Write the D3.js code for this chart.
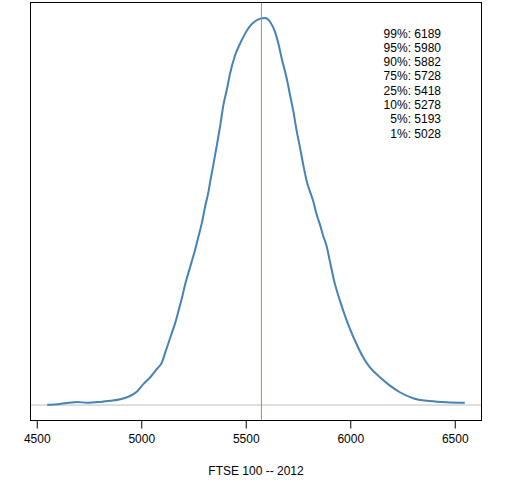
<!DOCTYPE html>
<html>
<head>
<meta charset="utf-8">
<script src="https://cdn.jsdelivr.net/npm/d3@7"></script>
<style>
  body { margin: 0; background: #fff; }
  svg { display: block; font-family: "Liberation Sans", Arial, sans-serif; }
</style>
</head>
<body>
<div class="chart"></div>
<script>
// density of the FTSE 100 closing level, 2012 (y in units of 1e-3 per point)
const ftse = [4550, 4613, 4653, 4693, 4741, 4804, 4852, 4900, 4939, 4980,
  5011, 5043, 5075, 5099, 5115, 5131, 5147, 5163, 5178, 5195,
  5210, 5226, 5242, 5258, 5274, 5290, 5306, 5322, 5330, 5345,
  5362, 5377, 5393, 5409, 5425, 5449, 5473, 5497, 5521, 5545,
  5569, 5593, 5617, 5640, 5656, 5672, 5696, 5712, 5728, 5744,
  5760, 5775, 5792, 5807, 5823, 5839, 5855, 5871, 5887, 5903,
  5927, 5951, 5975, 5999, 6030, 6062, 6094, 6142, 6190, 6237,
  6301, 6365, 6460, 6548];
const density = [0.001, 0.005, 0.010, 0.014, 0.010, 0.014, 0.019, 0.026, 0.038, 0.061,
  0.096, 0.126, 0.164, 0.194, 0.239, 0.284, 0.329, 0.374, 0.427, 0.487,
  0.548, 0.601, 0.653, 0.706, 0.766, 0.827, 0.902, 0.970, 1.015, 1.091,
  1.181, 1.264, 1.362, 1.430, 1.505, 1.588, 1.641, 1.686, 1.721, 1.742,
  1.754, 1.757, 1.739, 1.694, 1.641, 1.573, 1.482, 1.407, 1.332, 1.242,
  1.166, 1.091, 1.015, 0.970, 0.925, 0.865, 0.819, 0.766, 0.721, 0.650,
  0.548, 0.473, 0.405, 0.345, 0.277, 0.216, 0.171, 0.126, 0.088, 0.058,
  0.031, 0.019, 0.013, 0.010];
const median = 5575;
const quantLabels = ['99%', '95%', '90%', '75%', '25%', '10%', '5%', '1%'];
const quantValues = [6189, 5980, 5882, 5728, 5418, 5278, 5193, 5028];
const xTicks = [4500, 5000, 5500, 6000, 6500];

const W = 512, H = 480;
const box = {left: 30.5, right: 481.5, top: 2.5, bottom: 420.5};

const svg = d3.select('.chart')
    .append('svg')
    .attr('width', W)
    .attr('height', H);

// R style 4% padding on both axes
const xExt = d3.extent(ftse);
const xPad = (xExt[1] - xExt[0]) * 0.04;
const yMax = d3.max(density);

const xScale = d3.scaleLinear()
    .domain([xExt[0] - xPad, xExt[1] + xPad])
    .range([box.left, box.right]);

const yScale = d3.scaleLinear()
    .domain([-0.04 * yMax, yMax * 1.04])
    .range([box.bottom, box.top]);

// zero line
svg.append('line')
    .attr('x1', box.left).attr('x2', box.right)
    .attr('y1', yScale(0)).attr('y2', yScale(0))
    .attr('stroke', '#bebebe')
    .attr('stroke-width', 1);

const line = d3.line()
    .x((d, i) => xScale(ftse[i]))
    .y(d => yScale(d))
    .curve(d3.curveMonotoneX);

svg.append('path')
    .datum(density)
    .attr('d', line)
    .attr('fill', 'none')
    .attr('stroke', '#4682b4')
    .attr('stroke-width', 2);

// median
svg.append('line')
    .attr('x1', xScale(median)).attr('x2', xScale(median))
    .attr('y1', box.top).attr('y2', box.bottom)
    .attr('stroke', '#22dd22')
    .attr('stroke-width', 1);

// frame
svg.append('rect')
    .attr('x', box.left).attr('y', box.top)
    .attr('width', box.right - box.left)
    .attr('height', box.bottom - box.top)
    .attr('fill', 'none')
    .attr('stroke', '#000')
    .attr('stroke-width', 1);

const xAxis = d3.axisBottom(xScale)
    .tickValues(xTicks)
    .tickSize(8)
    .tickPadding(6)
    .tickFormat(d3.format('d'));

const gx = svg.append('g')
    .attr('class', 'x-axis')
    .attr('transform', 'translate(0,' + box.bottom + ')')
    .call(xAxis);
gx.select('.domain').remove();
gx.selectAll('text')
    .attr('font-size', 12)
    .attr('fill', '#000')
    .attr('font-family', '"Liberation Sans", Arial, sans-serif');
gx.selectAll('line').attr('stroke', '#000');

svg.append('text')
    .attr('x', (box.left + box.right) / 2)
    .attr('y', 475)
    .attr('text-anchor', 'middle')
    .attr('font-size', 12)
    .text('FTSE 100 -- 2012');

// quantile list
svg.append('g')
    .selectAll('text')
    .data(quantLabels)
    .join('text')
    .attr('x', 441)
    .attr('y', (d, i) => 37.5 + i * 14.3)
    .attr('text-anchor', 'end')
    .attr('font-size', 12)
    .text((d, i) => d + ': ' + quantValues[i]);
</script>
</body>
</html>
